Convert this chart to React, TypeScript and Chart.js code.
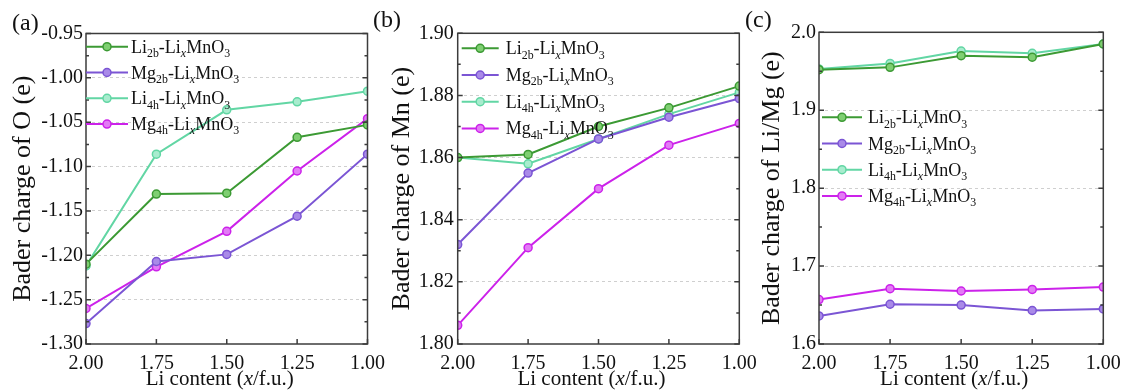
import React, { useEffect, useRef } from "react";
import { Chart, registerables } from "chart.js";
Chart.register(...registerables);

const FONT = '"Liberation Serif", "Times New Roman", Times, serif';

// ---- data ----
const xValues = [2.0, 1.75, 1.5, 1.25, 1.0];
const seriesElement = ["Li", "Mg", "Li", "Mg"];
const seriesSite = ["2b", "2b", "4h", "4h"];
const lineColors = ["#3c9a34", "#7b55d4", "#62d6a4", "#cc22ea"];
const pointFills = ["#7fcf72", "#a98ae8", "#a8ecce", "#e27bf5"];

const oLi2b = [-1.21, -1.131, -1.13, -1.067, -1.053];
const oMg2b = [-1.277, -1.207, -1.199, -1.156, -1.086];
const oLi4h = [-1.212, -1.086, -1.036, -1.027, -1.015];
const oMg4h = [-1.26, -1.213, -1.173, -1.105, -1.046];

const mnLi2b = [1.86, 1.861, 1.87, 1.876, 1.883];
const mnMg2b = [1.832, 1.855, 1.866, 1.873, 1.879];
const mnLi4h = [1.86, 1.858, 1.866, 1.874, 1.881];
const mnMg4h = [1.806, 1.831, 1.85, 1.864, 1.871];

const cLi2b = [1.952, 1.955, 1.97, 1.968, 1.985];
const cMg2b = [1.636, 1.651, 1.65, 1.643, 1.645];
const cLi4h = [1.953, 1.96, 1.976, 1.973, 1.985];
const cMg4h = [1.657, 1.671, 1.668, 1.67, 1.673];

const xTicks = [2.0, 1.75, 1.5, 1.25, 1.0];
const yTicksA = [-1.3, -1.25, -1.2, -1.15, -1.1, -1.05, -1.0, -0.95];
const yTicksB = [1.8, 1.82, 1.84, 1.86, 1.88, 1.9];
const yTicksC = [1.6, 1.7, 1.8, 1.9, 2.0];

const panels = [
  {
    label: "(a)", labelX: 12, labelY: 30,
    yTitle: "Bader charge of O (e)",
    series: [oLi2b, oMg2b, oLi4h, oMg4h],
    yTicks: yTicksA, dec: 2,
    padL: 0, yW: 86, padR: 1124 - 367.5, padT: 33.5, tickPad: 3,
    leg: { dx: 0, len: 42, gap: 3, dy: 13.2, step: 25.8 },
  },
  {
    label: "(b)", labelX: 373, labelY: 27,
    yTitle: "Bader charge of Mn (e)",
    series: [mnLi2b, mnMg2b, mnLi4h, mnMg4h],
    yTicks: yTicksB, dec: 2,
    padL: 378.4, yW: 79.3, padR: 1124 - 739.3, padT: 33.3, tickPad: 4,
    leg: { dx: 4, len: 37, gap: 7, dy: 15, step: 26.7 },
  },
  {
    label: "(c)", labelX: 745, labelY: 27,
    yTitle: "Bader charge of Li/Mg (e)",
    series: [cLi2b, cMg2b, cLi4h, cMg4h],
    yTicks: yTicksC, dec: 1,
    padL: 748.4, yW: 70.6, padR: 1124 - 1103.3, padT: 32.3, tickPad: 3,
    leg: { dx: 3, len: 40, gap: 6, dy: 85, step: 26.2 },
  },
];

type Part = { t: string; sub?: boolean; it?: boolean };

function drawRich(ctx: CanvasRenderingContext2D, parts: Part[], x: number, base: number, size: number, measureOnly = false) {
  let cx = x;
  for (const p of parts) {
    const s = p.sub ? size * 0.66 : size;
    ctx.font = `${p.it ? "italic " : ""}${s}px ${FONT}`;
    if (!measureOnly) ctx.fillText(p.t, cx, base + (p.sub ? size * 0.24 : 0));
    cx += ctx.measureText(p.t).width;
  }
  return cx - x;
}

function legendParts(i: number): Part[] {
  return [
    { t: seriesElement[i] },
    { t: seriesSite[i], sub: true },
    { t: "-Li" },
    { t: "x", sub: true, it: true },
    { t: "MnO" },
    { t: "3", sub: true },
  ];
}

const FRAME = "#3c3c3c";

function makePlugin(p: any) {
  return {
    id: "extras",
    afterDraw(chart: any) {
      const { ctx, chartArea: a, scales } = chart;
      const xs = scales.x, ys = scales.y;
      ctx.save();
      ctx.strokeStyle = FRAME;
      ctx.lineWidth = 1.5;
      ctx.beginPath();
      const yt = ys.ticks.map((t: any) => t.value);
      for (let i = 0; i < yt.length; i++) {
        const py = ys.getPixelForValue(yt[i]);
        ctx.moveTo(a.left, py); ctx.lineTo(a.left + 5, py);
        ctx.moveTo(a.right, py); ctx.lineTo(a.right - 5, py);
        if (i < yt.length - 1) {
          const pm = ys.getPixelForValue((yt[i] + yt[i + 1]) / 2);
          ctx.moveTo(a.left, pm); ctx.lineTo(a.left + 3, pm);
          ctx.moveTo(a.right, pm); ctx.lineTo(a.right - 3, pm);
        }
      }
      xs.ticks.forEach((t: any) => {
        const px = xs.getPixelForValue(t.value);
        ctx.moveTo(px, a.bottom); ctx.lineTo(px, a.bottom - 5);
      });
      ctx.stroke();
      ctx.strokeRect(a.left, a.top, a.right - a.left, a.bottom - a.top);

      // legend
      const L = p.leg;
      ctx.fillStyle = "#111";
      ctx.textBaseline = "alphabetic";
      ctx.textAlign = "left";
      for (let i = 0; i < 4; i++) {
        const y = a.top + L.dy + i * L.step;
        const x0 = a.left + L.dx;
        ctx.strokeStyle = lineColors[i];
        ctx.lineWidth = 2;
        ctx.beginPath();
        ctx.moveTo(x0, y); ctx.lineTo(x0 + L.len, y);
        ctx.stroke();
        ctx.beginPath();
        ctx.arc(x0 + L.len / 2, y, 4, 0, Math.PI * 2);
        ctx.fillStyle = pointFills[i];
        ctx.fill();
        ctx.lineWidth = 1.5;
        ctx.stroke();
        ctx.fillStyle = "#111";
        drawRich(ctx, legendParts(i), x0 + L.len + L.gap, y + 6, 18);
      }

      // x title
      const xt: Part[] = [{ t: "Li content (" }, { t: "x", it: true }, { t: "/f.u.)" }];
      const w = drawRich(ctx, xt, 0, 0, 21, true);
      const cx = (a.left + a.right) / 2 - 7;
      drawRich(ctx, xt, cx - w / 2, 385, 21);

      // panel label
      ctx.font = `24px ${FONT}`;
      ctx.fillText(p.label, p.labelX, p.labelY);
      ctx.restore();
    },
  };
}

function Panel({ p }: { p: any }) {
  const ref = useRef<HTMLCanvasElement>(null);
  useEffect(() => {
    const yMin = p.yTicks[0];
    const yMax = p.yTicks[p.yTicks.length - 1];
    const yStep = p.yTicks[1] - p.yTicks[0];
    const chart = new Chart(ref.current!, {
      type: "line",
      data: {
        datasets: p.series.map((s: number[], i: number) => ({
          label: `${seriesElement[i]}${seriesSite[i]}-LixMnO3`,
          data: xValues.map((x, j) => ({ x, y: s[j] })),
          borderColor: lineColors[i],
          backgroundColor: pointFills[i],
          pointBackgroundColor: pointFills[i],
          pointBorderColor: lineColors[i],
          borderWidth: 2,
          pointRadius: 4,
          pointBorderWidth: 1.5,
          tension: 0,
          clip: 0,
        })),
      },
      options: {
        animation: false,
        responsive: false,
        devicePixelRatio: 1,
        layout: { padding: { left: p.padL, right: p.padR, top: p.padT, bottom: 0 } },
        plugins: { legend: { display: false }, tooltip: { enabled: false } },
        scales: {
          x: {
            type: "linear",
            reverse: true,
            min: 1,
            max: 2,
            afterBuildTicks: (s: any) => { s.ticks = xTicks.map((v) => ({ value: v })); },
            afterFit: (s: any) => { s.height = 47; },
            ticks: {
              callback: (v: any) => Number(v).toFixed(2),
              font: { family: FONT, size: 20 },
              color: "#111",
              padding: 0,
              maxRotation: 0,
              autoSkip: false,
            },
            grid: { display: false },
            border: { display: false },
          },
          y: {
            type: "linear",
            min: yMin,
            max: yMax,
            afterBuildTicks: (s: any) => { s.ticks = p.yTicks.map((v: number) => ({ value: v })); },
            afterFit: (s: any) => { s.width = p.yW; },
            ticks: {
              stepSize: yStep,
              callback: (v: any) => Number(v).toFixed(p.dec),
              font: { family: FONT, size: 20 },
              color: "#111",
              padding: p.tickPad,
              autoSkip: false,
            },
            grid: {
              drawTicks: false,
              color: (c: any) => {
                const v = c.tick ? c.tick.value : null;
                if (v === null || Math.abs(v - yMin) < 1e-9 || Math.abs(v - yMax) < 1e-9) return "rgba(0,0,0,0)";
                return "#cfcfcf";
              },
              lineWidth: 1,
            },
            border: { display: false, dash: [3, 3] },
            title: {
              display: true,
              text: p.yTitle,
              font: { family: FONT, size: 26 },
              color: "#111",
              padding: { top: 8, bottom: 0 },
            },
          },
        },
      },
      plugins: [makePlugin(p)],
    } as any);
    return () => chart.destroy();
  }, [p]);
  return (
    <canvas
      ref={ref}
      width={1124}
      height={391}
      style={{ position: "absolute", left: 0, top: 0, width: 1124, height: 391 }}
    />
  );
}

export default function App() {
  return (
    <div style={{ position: "fixed", left: 0, top: 0, width: 1124, height: 391, background: "#fff" }}>
      {panels.map((p, i) => (
        <Panel key={i} p={p} />
      ))}
    </div>
  );
}
